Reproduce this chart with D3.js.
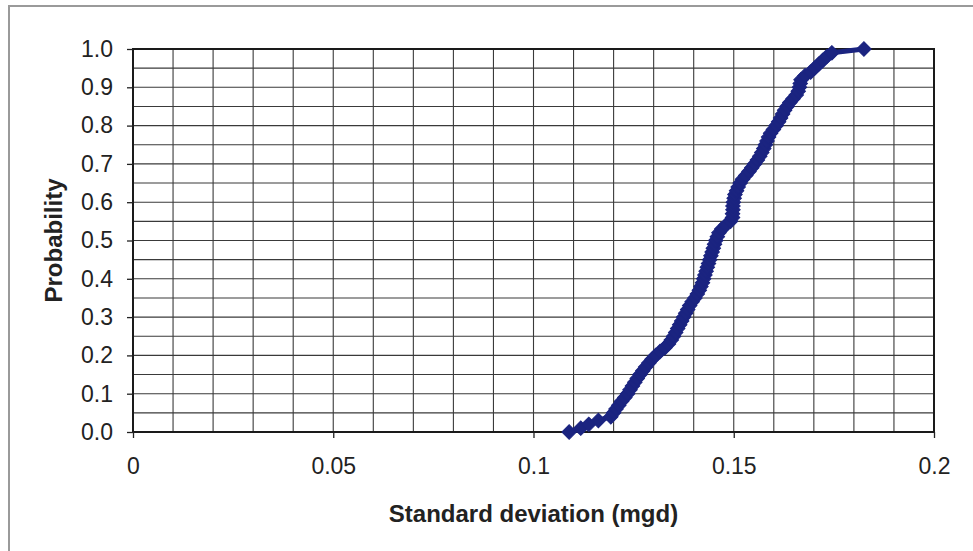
<!DOCTYPE html>
<html>
<head>
<meta charset="utf-8">
<script src="https://cdn.jsdelivr.net/npm/d3@7/dist/d3.min.js"></script>
<style>
  html, body { margin: 0; padding: 0; background: #ffffff; }
  svg { display: block; }
  text { font-family: Arial, "Liberation Sans", Helvetica, sans-serif; fill: #222; }
</style>
</head>
<body>
<svg id="chart" width="973" height="551"></svg>
<script>
// Sorted standard deviations (mgd) and their cumulative probabilities
const stdDev = [
  0.1089, 0.1118, 0.1138, 0.1162, 0.1193, 0.1200, 0.1206, 0.1213, 0.1220, 0.1228,
  0.1235, 0.1241, 0.1247, 0.1253, 0.1259, 0.1266, 0.1273, 0.1280, 0.1288, 0.1296,
  0.1305, 0.1316, 0.1328, 0.1337, 0.1344, 0.1350, 0.1355, 0.1360, 0.1365, 0.1370,
  0.1375, 0.1380, 0.1385, 0.1390, 0.1396, 0.1403, 0.1409, 0.1414, 0.1418, 0.1422,
  0.1425, 0.1428, 0.1431, 0.1434, 0.1437, 0.1440, 0.1443, 0.1446, 0.1449, 0.1452,
  0.1455, 0.1459, 0.1463, 0.1470, 0.1480, 0.1492, 0.1497, 0.1497, 0.1498, 0.1498,
  0.1499, 0.1501, 0.1503, 0.1507, 0.1511, 0.1516, 0.1522, 0.1530, 0.1538, 0.1545,
  0.1552, 0.1559, 0.1565, 0.1570, 0.1575, 0.1579, 0.1583, 0.1587, 0.1592, 0.1599,
  0.1606, 0.1612, 0.1617, 0.1622, 0.1627, 0.1633, 0.1640, 0.1648, 0.1656, 0.1661,
  0.1664, 0.1666, 0.1668, 0.1678, 0.1692, 0.1702, 0.1712, 0.1722, 0.1732, 0.1745,
  0.1825
];
const probability = [
  0.00, 0.01, 0.02, 0.03, 0.04, 0.05, 0.06, 0.07, 0.08, 0.09,
  0.10, 0.11, 0.12, 0.13, 0.14, 0.15, 0.16, 0.17, 0.18, 0.19,
  0.20, 0.21, 0.22, 0.23, 0.24, 0.25, 0.26, 0.27, 0.28, 0.29,
  0.30, 0.31, 0.32, 0.33, 0.34, 0.35, 0.36, 0.37, 0.38, 0.39,
  0.40, 0.41, 0.42, 0.43, 0.44, 0.45, 0.46, 0.47, 0.48, 0.49,
  0.50, 0.51, 0.52, 0.53, 0.54, 0.55, 0.56, 0.57, 0.58, 0.59,
  0.60, 0.61, 0.62, 0.63, 0.64, 0.65, 0.66, 0.67, 0.68, 0.69,
  0.70, 0.71, 0.72, 0.73, 0.74, 0.75, 0.76, 0.77, 0.78, 0.79,
  0.80, 0.81, 0.82, 0.83, 0.84, 0.85, 0.86, 0.87, 0.88, 0.89,
  0.90, 0.91, 0.92, 0.93, 0.94, 0.95, 0.96, 0.97, 0.98, 0.99,
  1.00
];

// Axis ticks and gridlines
const xTicks = [0, 0.05, 0.1, 0.15, 0.2];
const xTickLabels = ["0", "0.05", "0.1", "0.15", "0.2"];
const yTicks = [0, 0.1, 0.2, 0.3, 0.4, 0.5, 0.6, 0.7, 0.8, 0.9, 1.0];
const yTickLabels = ["0.0", "0.1", "0.2", "0.3", "0.4", "0.5", "0.6", "0.7", "0.8", "0.9", "1.0"];
const xGrid = [0.01, 0.02, 0.03, 0.04, 0.05, 0.06, 0.07, 0.08, 0.09, 0.10,
               0.11, 0.12, 0.13, 0.14, 0.15, 0.16, 0.17, 0.18, 0.19];
const yGrid = [0.05, 0.10, 0.15, 0.20, 0.25, 0.30, 0.35, 0.40, 0.45, 0.50,
               0.55, 0.60, 0.65, 0.70, 0.75, 0.80, 0.85, 0.90, 0.95];

const xTitle = "Standard deviation (mgd)";
const yTitle = "Probability";

const svg = d3.select("#chart");
const plot = { left: 133, right: 934, top: 49, bottom: 432 };

const x = d3.scaleLinear().domain([0, 0.2]).range([plot.left, plot.right]);
const y = d3.scaleLinear().domain([0, 1]).range([plot.bottom, plot.top]);

// Outer chart frame (runs off the right and bottom edges)
svg.append("rect")
  .attr("x", 9).attr("y", 6)
  .attr("width", 990).attr("height", 560)
  .attr("fill", "#ffffff")
  .attr("stroke", "#9a9a9a")
  .attr("stroke-width", 2);

// Plot area
svg.append("rect")
  .attr("x", plot.left).attr("y", plot.top)
  .attr("width", plot.right - plot.left).attr("height", plot.bottom - plot.top)
  .attr("fill", "#ffffff");

// Gridlines
const grid = svg.append("g").attr("stroke", "#3a3a3a").attr("stroke-width", 1.1);
grid.selectAll("line.v").data(xGrid).join("line")
  .attr("class", "v")
  .attr("x1", d => x(d)).attr("x2", d => x(d))
  .attr("y1", plot.top).attr("y2", plot.bottom);
grid.selectAll("line.h").data(yGrid).join("line")
  .attr("class", "h")
  .attr("x1", plot.left).attr("x2", plot.right)
  .attr("y1", d => y(d)).attr("y2", d => y(d));

// Plot border
svg.append("rect")
  .attr("x", plot.left).attr("y", plot.top)
  .attr("width", plot.right - plot.left).attr("height", plot.bottom - plot.top)
  .attr("fill", "none")
  .attr("stroke", "#1a1a1a")
  .attr("stroke-width", 2);

// Y axis
const yAxis = d3.axisLeft(y)
  .tickValues(yTicks)
  .tickFormat((d, i) => yTickLabels[i])
  .tickSize(6)
  .tickPadding(14);
const gy = svg.append("g").attr("transform", `translate(${plot.left},0)`).call(yAxis);
gy.select(".domain").remove();
gy.selectAll(".tick line").attr("stroke", "#222").attr("stroke-width", 1.3);
gy.selectAll(".tick text")
  .style("font-size", "23px")
  .attr("fill", "#222");

// X axis
const xAxis = d3.axisBottom(x)
  .tickValues(xTicks)
  .tickFormat((d, i) => xTickLabels[i])
  .tickSize(6)
  .tickPadding(20);
const gx = svg.append("g").attr("transform", `translate(0,${plot.bottom})`).call(xAxis);
gx.select(".domain").remove();
gx.selectAll(".tick line").attr("stroke", "#222").attr("stroke-width", 1.3);
gx.selectAll(".tick text")
  .style("font-size", "23px")
  .attr("fill", "#222");

// Axis titles
svg.append("text")
  .attr("x", (plot.left + plot.right) / 2)
  .attr("y", 522)
  .attr("text-anchor", "middle")
  .style("font-size", "24px")
  .style("font-weight", "bold")
  .text(xTitle);

svg.append("text")
  .attr("transform", `translate(62,${(plot.top + plot.bottom) / 2}) rotate(-90)`)
  .attr("text-anchor", "middle")
  .style("font-size", "24px")
  .style("font-weight", "bold")
  .text(yTitle);

// Cumulative distribution series
const points = stdDev.map((v, i) => ({ sd: v, p: probability[i] }));
const navy = "#1b2480";

svg.append("path")
  .datum(points)
  .attr("fill", "none")
  .attr("stroke", navy)
  .attr("stroke-width", 5)
  .attr("stroke-linejoin", "round")
  .attr("d", d3.line().x(d => x(d.sd)).y(d => y(d.p)));

svg.append("g").selectAll("path").data(points).join("path")
  .attr("transform", d => `translate(${x(d.sd)},${y(d.p)}) rotate(45)`)
  .attr("d", d3.symbol().type(d3.symbolSquare).size(105))
  .attr("fill", navy)
  .attr("stroke", navy)
  .attr("stroke-width", 1);
</script>
</body>
</html>
